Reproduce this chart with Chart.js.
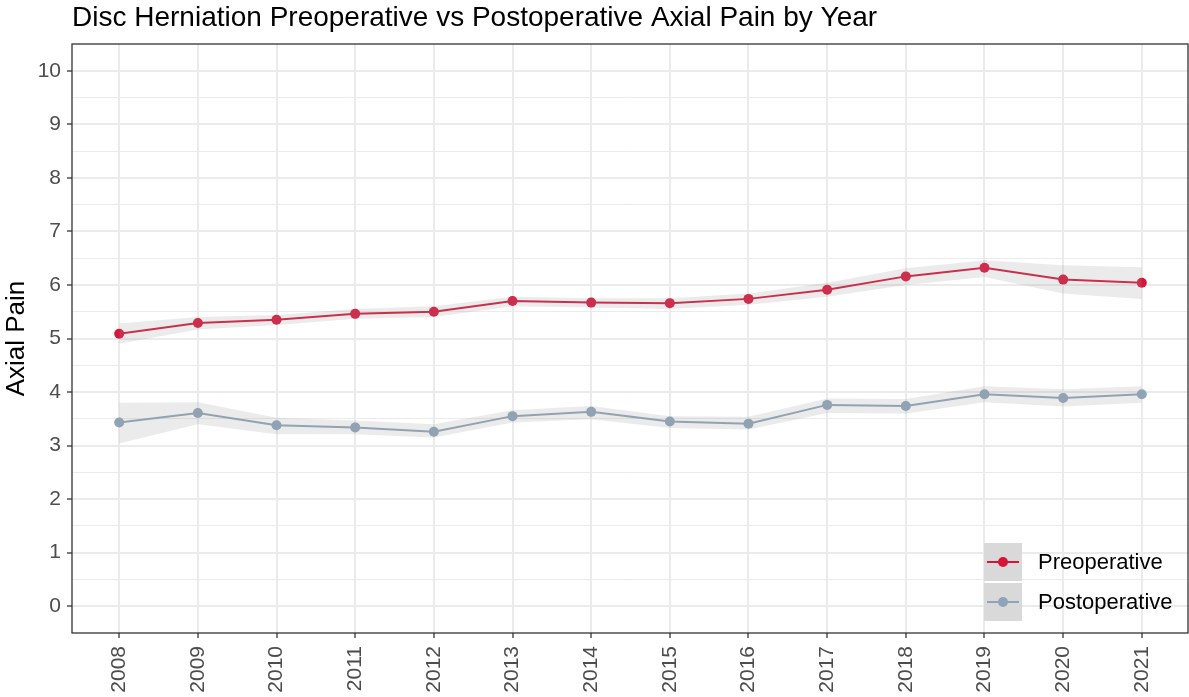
<!DOCTYPE html>
<html>
<head>
<meta charset="utf-8">
<script src="https://cdn.jsdelivr.net/npm/chart.js@4/dist/chart.umd.min.js"></script>
<style>
body{margin:0;background:#fff;}
canvas{display:block;}
</style>
</head>
<body>
<canvas id="chart" width="1189" height="697"></canvas>
<script>
// yearly mean axial pain with confidence band, before and after surgery
const years=[2008,2009,2010,2011,2012,2013,2014,2015,2016,2017,2018,2019,2020,2021];

const preMean=[5.09,5.29,5.35,5.46,5.50,5.70,5.67,5.66,5.74,5.91,6.16,6.32,6.10,6.04];
const preLow=[4.90,5.17,5.25,5.37,5.40,5.60,5.58,5.55,5.63,5.78,6.00,6.15,5.84,5.74];
const preHigh=[5.28,5.40,5.44,5.55,5.60,5.78,5.75,5.75,5.84,6.04,6.31,6.46,6.37,6.33];

const postMean=[3.43,3.61,3.38,3.34,3.26,3.55,3.63,3.45,3.41,3.76,3.74,3.96,3.89,3.96];
const postLow=[3.04,3.40,3.21,3.21,3.15,3.43,3.49,3.33,3.30,3.61,3.60,3.81,3.73,3.80];
const postHigh=[3.80,3.81,3.52,3.47,3.40,3.66,3.74,3.55,3.54,3.88,3.87,4.11,4.05,4.11];

const yTicks=[0,1,2,3,4,5,6,7,8,9,10];

const preColor="#d7153a";
const postColor="#8fa4b8";
const bandColor="rgba(153,153,153,0.2)";
const gridColor="#ebebeb";
const textGrey="#4d4d4d";
const FONT="'Liberation Sans', Arial, sans-serif";

const pts=arr=>arr.map((v,i)=>({x:years[i],y:v}));

function band(high,low){
return [{
data:pts(high),borderWidth:0,borderColor:"transparent",pointRadius:0,
backgroundColor:bandColor,fill:"+1",tension:0
},{
data:pts(low),borderWidth:0,borderColor:"transparent",pointRadius:0,
backgroundColor:bandColor,fill:false,tension:0
}];
}

function series(label,vals,color){
return {
label:label,data:pts(vals),borderColor:color,backgroundColor:color,
borderWidth:2,pointRadius:5,pointBorderWidth:0,pointHoverRadius:5,fill:false,tension:0
};
}

// title, panel border and legend drawn on top
const decor={
id:"decor",
afterDraw(chart){
const ctx=chart.ctx;
const a=chart.chartArea;
ctx.save();
ctx.strokeStyle="#333333";
ctx.lineWidth=1.3;
ctx.strokeRect(a.left,a.top,a.right-a.left-1,a.bottom-a.top);

ctx.fillStyle="#000";
ctx.font="28px "+FONT;
ctx.textBaseline="alphabetic";
ctx.textAlign="left";
ctx.fillText("Disc Herniation Preoperative vs Postoperative Axial Pain by Year",72,26);

const items=[["Preoperative",preColor],["Postoperative",postColor]];
items.forEach((it,i)=>{
const ky=543+i*40;
ctx.fillStyle="#d9d9d9";
ctx.fillRect(984,ky,38,38);
ctx.strokeStyle=it[1];
ctx.lineWidth=2;
ctx.beginPath();
ctx.moveTo(987,ky+19);
ctx.lineTo(1019,ky+19);
ctx.stroke();
ctx.fillStyle=it[1];
ctx.beginPath();
ctx.arc(1003,ky+19,5,0,Math.PI*2);
ctx.fill();
ctx.fillStyle="#000";
ctx.font="22px "+FONT;
ctx.textBaseline="middle";
ctx.fillText(it[0],1038,ky+20);
});
ctx.restore();
}
};

new Chart(document.getElementById("chart"),{
type:"line",
data:{
datasets:[
...band(preHigh,preLow),
...band(postHigh,postLow),
series("Preoperative",preMean,preColor),
series("Postoperative",postMean,postColor)
]
},
options:{
responsive:false,
animation:false,
layout:{autoPadding:false,padding:{top:44,right:0,left:0,bottom:0}},
plugins:{legend:{display:false},title:{display:false},tooltip:{enabled:false}},
scales:{
x:{
type:"linear",min:2007.4,max:2021.6,
afterBuildTicks:s=>{s.ticks=years.map(v=>({value:v}));},
afterFit:s=>{s.height=64;s.paddingLeft=0;s.paddingRight=0;},
grid:{color:gridColor,lineWidth:2,tickColor:"#333333",tickLength:5,tickWidth:1.3},
border:{display:false},
ticks:{
autoSkip:false,minRotation:90,maxRotation:90,padding:8,color:textGrey,
font:{family:FONT,size:21},
callback:v=>String(v)
}
},
y:{
type:"linear",min:-0.5,max:10.5,
afterBuildTicks:s=>{
const t=[];
for(let v=-0.5;v<=10.5;v+=0.5)t.push({value:v});
s.ticks=t;
},
afterFit:s=>{s.width=72;s.paddingTop=0;s.paddingBottom=0;},
grid:{
color:c=>{
const v=c.tick.value;
if(v<0||v>10)return "transparent";
return gridColor;
},
lineWidth:c=>Number.isInteger(c.tick.value)?2:1,
tickColor:c=>yTicks.includes(c.tick.value)?"#333333":"transparent",
tickLength:5,tickWidth:1.3
},
border:{display:false},
ticks:{
autoSkip:false,padding:6,color:textGrey,
font:{family:FONT,size:21},
callback:v=>yTicks.includes(v)?String(v):""
},
title:{
display:true,text:"Axial Pain",color:"#000",
font:{family:FONT,size:26},
padding:{top:1,bottom:0}
}
}
}
},
plugins:[decor]
});
</script>
</body>
</html>
